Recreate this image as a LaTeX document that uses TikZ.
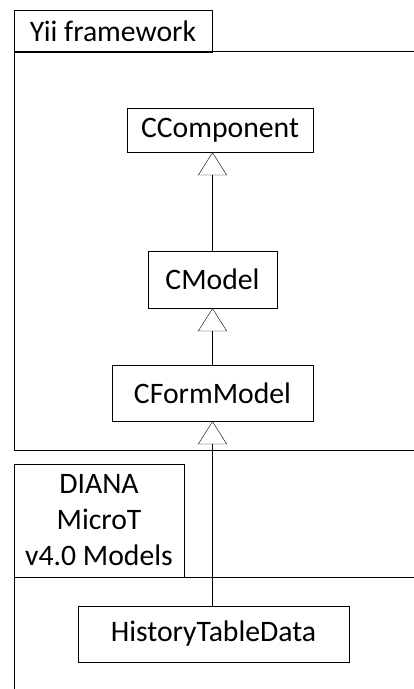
\documentclass[tikz,border=0pt]{standalone}
\usepackage{fontspec}
\setmainfont{Carlito}
\usepackage{tikz}
\usetikzlibrary{positioning,arrows.meta}
\tikzset{
line width=1.7pt,
cls/.style={rectangle,draw,inner sep=0pt,font=\fontsize{29.7}{36}\selectfont},
tab/.style={rectangle,draw,inner sep=0pt,align=center,font=\fontsize{29.7}{36}\selectfont},
inh/.style={-{Triangle[open,length=23pt,width=29pt]}},
}

\begin{document}
\begin{tikzpicture}[x=1pt,y=-1pt]
\useasboundingbox (0,0) rectangle (414,689);

% packages
\node[tab,minimum width=198pt,minimum height=42pt] (yii) at (113,31) {Yii framework};
\node[tab,minimum width=170pt,minimum height=113pt] (diana) at (99,520.5) {DIANA\\MicroT\\v4.0 Models};
\draw (414,51) -- (14,51) -- (14,450) -- (414,450);
\draw (414,577) -- (14,577) -- (14,689);

% classes
\node[cls,minimum width=186pt,minimum height=44pt] (ccomp) at (220,130) {CComponent};
\node[cls,minimum width=129pt,minimum height=57pt] (cmodel) at (212.5,279.5) {CModel};
\node[cls,minimum width=201pt,minimum height=56pt] (cform) at (212.5,393) {CFormModel};
\node[cls,minimum width=271pt,minimum height=56pt] (hist) at (213.5,634) {HistoryTableData};

\draw[inh] (cmodel.north) -- (ccomp.south -| cmodel.north);
\draw[inh] (cform.north) -- (cmodel.south);
\draw[inh] (hist.north -| cform.north) -- (cform.south);
\end{tikzpicture}
\end{document}
